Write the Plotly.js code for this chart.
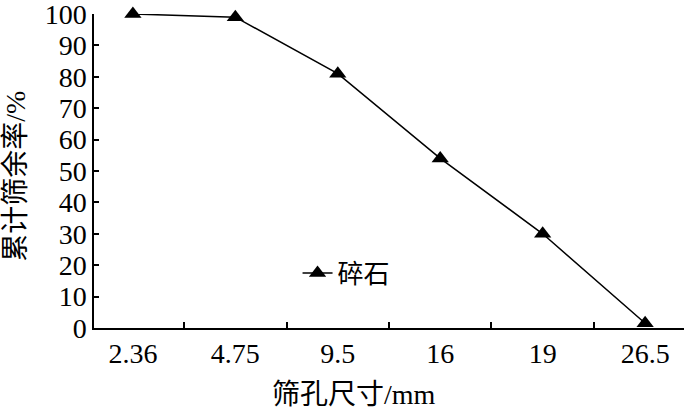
<!DOCTYPE html>
<html>
<head>
<meta charset="utf-8">
<script src="https://cdn.plot.ly/plotly-3.0.1.min.js"></script>
<style>
  html, body { margin: 0; padding: 0; background: #fff; }
  #chart { width: 700px; height: 412px; }
</style>
</head>
<body>
<div id="chart"></div>
<script>
// sieve sizes (mm) and cumulative retained (%)
const sieveSizes = ['2.36', '4.75', '9.5', '16', '19', '26.5'];
const retained = [100, 99, 81, 54, 30, 1.5];
const seriesName = '碎石';
const xTitle = '筛孔尺寸/mm';
const yTitle = '累计筛余率/%';

const FONT = '"Liberation Serif", "Times New Roman", "Noto Sans CJK SC", serif';

Plotly.newPlot('chart', [{
  x: sieveSizes,
  y: retained,
  type: 'scatter',
  mode: 'lines+markers',
  name: seriesName,
  line: { color: '#000', width: 1.5 },
  marker: { symbol: 'triangle-up', size: 15, color: '#000' },
  cliponaxis: false,
}], {
  width: 700, height: 412,
  margin: { t: 14, r: 16, b: 84, l: 94 },
  paper_bgcolor: '#fff', plot_bgcolor: '#fff',
  font: { family: FONT, size: 28, color: '#000' },
  showlegend: true,
  legend: {
    x: 0.345, y: 0.175, xanchor: 'left', yanchor: 'middle',
    bgcolor: 'rgba(0,0,0,0)', font: { size: 26 },
  },
  xaxis: {
    type: 'category',
    showline: true, linecolor: '#000', linewidth: 1.5,
    ticks: 'inside', ticklen: 6, tickwidth: 1.5, tickcolor: '#000',
    tickson: 'boundaries',
    showgrid: false, zeroline: false,
    tickfont: { size: 28 },
  },
  yaxis: {
    range: [0, 100], dtick: 10,
    showline: true, linecolor: '#000', linewidth: 1.5,
    ticks: 'inside', ticklen: 5, tickwidth: 1.5, tickcolor: '#000',
    showgrid: false, zeroline: false,
    ticklabeloverflow: 'allow',
    tickfont: { size: 28 },
  },
  annotations: [
    { text: xTitle, xref: 'paper', yref: 'paper', x: 0.44, y: -0.213,
      xanchor: 'center', yanchor: 'middle', showarrow: false, font: { size: 28 } },
    { text: yTitle, xref: 'paper', yref: 'paper', x: -0.133, y: 0.483,
      xanchor: 'center', yanchor: 'middle', textangle: -90, showarrow: false, font: { size: 28 } },
  ],
}, { displayModeBar: false });
</script>
</body>
</html>
